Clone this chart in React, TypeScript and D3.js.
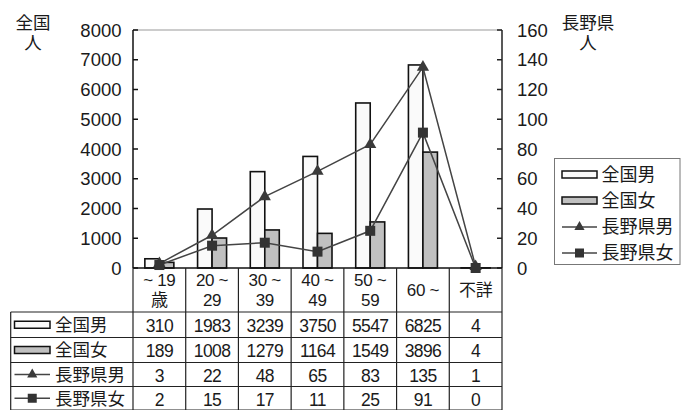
import React from "react";
import * as d3 from "d3";

const categories = ["~ 19歳", "20 ~ 29", "30 ~ 39", "40 ~ 49", "50 ~ 59", "60 ~", "不詳"];
const headerLines = [["~ 19", "歳"], ["20 ~", "29"], ["30 ~", "39"], ["40 ~", "49"], ["50 ~", "59"], ["60 ~"], ["不詳"]];
const zenkokuMale = [310, 1983, 3239, 3750, 5547, 6825, 4];
const zenkokuFemale = [189, 1008, 1279, 1164, 1549, 3896, 4];
const naganoMale = [3, 22, 48, 65, 83, 135, 1];
const naganoFemale = [2, 15, 17, 11, 25, 91, 0];
const leftTicks = [0, 1000, 2000, 3000, 4000, 5000, 6000, 7000, 8000];
const rightTicks = [0, 20, 40, 60, 80, 100, 120, 140, 160];
const seriesNames = ["全国男", "全国女", "長野県男", "長野県女"];

const FONT = "'Liberation Sans', Arial, 'Noto Sans CJK JP', sans-serif";
const TXT = "#1a1a1a";
const LINE = "#444";
const WHITE_FILL = "#fafafa";
const GRAY_FILL = "#c0c0c0";

const L = 133, R = 502, T = 30, B = 268;
const TABLE_LEFT = 10.7;
const rowEdges = [312, 337.5, 362.5, 386.5, 410];

function Triangle({ x, y, s = 11 }: { x: number; y: number; s?: number }) {
  const p = d3.symbol(d3.symbolTriangle, s * s * 0.45)();
  return <path d={p as string} transform={`translate(${x},${y})`} fill="#3a3a3a" />;
}
function Square({ x, y, s = 10 }: { x: number; y: number; s?: number }) {
  return <rect x={x - s / 2} y={y - s / 2} width={s} height={s} fill="#333" />;
}

export default function App() {
  const x = d3.scaleBand<string>().domain(categories).range([L, R]).paddingInner(0).paddingOuter(0);
  const bw = x.bandwidth();
  const inner = d3.scaleBand<string>().domain(["m", "f"]).range([-14.5, 14.5]);
  const yL = d3.scaleLinear().domain([0, 8000]).range([B, T]);
  const yR = d3.scaleLinear().domain([0, 160]).range([B, T]);
  const cx = (c: string) => (x(c) as number) + bw / 2;

  const lineGen = d3
    .line<number>()
    .x((_, i) => cx(categories[i]))
    .y((d) => yR(d));

  const boundaries = categories.map((c) => x(c) as number).concat([R]);

  const legendRows = [174.5, 200.5, 227, 253];

  const swatch = (i: number, x0: number, x1: number, yc: number) => {
    if (i === 0)
      return <rect x={x0} y={yc - 3.5} width={x1 - x0} height={7} fill={WHITE_FILL} stroke="#111" strokeWidth={1.5} />;
    if (i === 1)
      return <rect x={x0} y={yc - 3.5} width={x1 - x0} height={7} fill={GRAY_FILL} stroke="#111" strokeWidth={1.5} />;
    const mid = (x0 + x1) / 2;
    return (
      <g>
        <line x1={x0} x2={x1} y1={yc} y2={yc} stroke={LINE} strokeWidth={1.5} />
        {i === 2 ? <Triangle x={mid} y={yc} s={10} /> : <Square x={mid} y={yc} s={9} />}
      </g>
    );
  };

  const tableData = [zenkokuMale, zenkokuFemale, naganoMale, naganoFemale];

  return (
    <svg width={681} height={410} style={{ position: "absolute", left: 0, top: 0 }} fontFamily={FONT}>
      <rect x={0} y={0} width={681} height={410} fill="#fff" />
      {/* plot top border */}
      <line x1={L} x2={R} y1={T} y2={T} stroke="#999" strokeWidth={1} />
      {/* left axis */}
      <line x1={L} x2={L} y1={T} y2={B} stroke="#111" strokeWidth={1.5} />
      {leftTicks.map((t) => (
        <g key={"l" + t}>
          <line x1={L} x2={L + 5} y1={yL(t)} y2={yL(t)} stroke="#111" strokeWidth={1.5} />
          <text x={121.5} y={yL(t)} dy="0.36em" textAnchor="end" fontSize={18.5} fill={TXT}>
            {t}
          </text>
        </g>
      ))}
      {/* right axis */}
      <line x1={R} x2={R} y1={T} y2={B} stroke="#222" strokeWidth={1.5} />
      {rightTicks.map((t) => (
        <g key={"r" + t}>
          <line x1={R - 5} x2={R} y1={yR(t)} y2={yR(t)} stroke="#222" strokeWidth={1.5} />
          <text x={517} y={yR(t)} dy="0.36em" textAnchor="start" fontSize={18.5} fill={TXT}>
            {t}
          </text>
        </g>
      ))}
      {/* axis titles */}
      <text x={33} y={29} textAnchor="middle" fontSize={17.5} fill={TXT}>全国</text>
      <text x={33} y={49} textAnchor="middle" fontSize={17.5} fill={TXT}>人</text>
      <text x={588} y={29} textAnchor="middle" fontSize={17.5} fill={TXT}>長野県</text>
      <text x={588} y={49} textAnchor="middle" fontSize={17.5} fill={TXT}>人</text>

      {/* bars */}
      {categories.map((c, i) => (
        <g key={"b" + c}>
          <rect
            x={cx(c) + (inner("m") as number)}
            y={yL(zenkokuMale[i])}
            width={inner.bandwidth()}
            height={B - yL(zenkokuMale[i])}
            fill={WHITE_FILL}
            stroke="#111"
            strokeWidth={1.6}
          />
          <rect
            x={cx(c) + (inner("f") as number)}
            y={yL(zenkokuFemale[i])}
            width={inner.bandwidth()}
            height={B - yL(zenkokuFemale[i])}
            fill={GRAY_FILL}
            stroke="#111"
            strokeWidth={1.6}
          />
        </g>
      ))}
      {/* zero line */}
      <line x1={L} x2={R} y1={B} y2={B} stroke="#111" strokeWidth={1.5} />

      {/* lines */}
      <path d={lineGen(naganoMale) as string} fill="none" stroke={LINE} strokeWidth={1.5} />
      <path d={lineGen(naganoFemale) as string} fill="none" stroke={LINE} strokeWidth={1.5} />
      {naganoMale.map((v, i) => (
        <Triangle key={"t" + i} x={cx(categories[i])} y={yR(v)} s={12} />
      ))}
      {naganoFemale.map((v, i) => (
        <Square key={"s" + i} x={cx(categories[i])} y={yR(v)} s={10} />
      ))}

      {/* legend */}
      <rect x={554.5} y={158.5} width={125.5} height={106} fill="#fff" stroke="#777" strokeWidth={1} />
      {seriesNames.map((n, i) => (
        <g key={"lg" + n}>
          {swatch(i, 562, 597, legendRows[i])}
          <text x={601.5} y={legendRows[i]} dy="0.36em" fontSize={18} fill={TXT}>
            {n}
          </text>
        </g>
      ))}

      {/* table */}
      {boundaries.map((bx, i) => (
        <line key={"v" + i} x1={bx} x2={bx} y1={B} y2={410} stroke="#222" strokeWidth={1.2} />
      ))}
      <line x1={TABLE_LEFT} x2={TABLE_LEFT} y1={rowEdges[0]} y2={410} stroke="#222" strokeWidth={1.2} />
      {rowEdges.map((ry, i) => (
        <line key={"h" + i} x1={TABLE_LEFT} x2={R} y1={ry} y2={ry} stroke="#222" strokeWidth={1.2} />
      ))}
      {headerLines.map((lines, i) => {
        const c = cx(categories[i]);
        const mid = (B + rowEdges[0]) / 2;
        return (
          <g key={"hd" + i}>
            {lines.map((ln, j) => (
              <text
                key={j}
                x={c}
                y={lines.length === 1 ? mid : mid + (j === 0 ? -10 : 10)}
                dy="0.36em"
                textAnchor="middle"
                fontSize={17}
                fill={TXT}
                letterSpacing={-0.3}
              >
                {ln}
              </text>
            ))}
          </g>
        );
      })}
      {tableData.map((row, r) => {
        const yc = (rowEdges[r] + rowEdges[r + 1]) / 2;
        return (
          <g key={"row" + r}>
            {swatch(r, 14.5, 50, yc)}
            <text x={55} y={yc} dy="0.36em" fontSize={17.5} fill={TXT}>
              {seriesNames[r]}
            </text>
            {row.map((v, i) => (
              <text
                key={i}
                x={cx(categories[i])}
                y={yc + 1}
                dy="0.36em"
                textAnchor="middle"
                fontSize={17.5}
                fill={TXT}
                letterSpacing={-0.6}
              >
                {v}
              </text>
            ))}
          </g>
        );
      })}
    </svg>
  );
}
